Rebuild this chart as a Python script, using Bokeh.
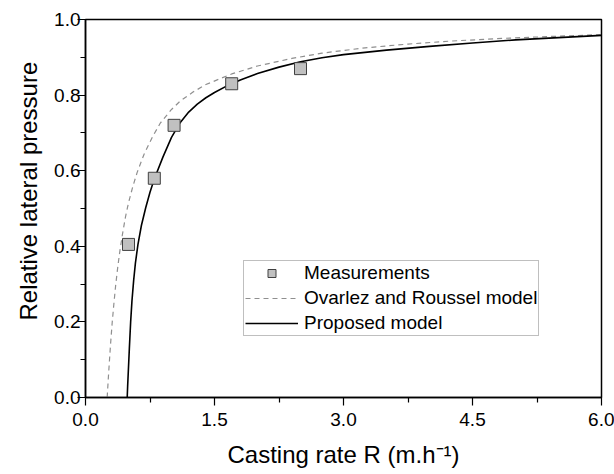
from bokeh.plotting import figure
from bokeh.models import (Range1d, FixedTicker, NumeralTickFormatter, Legend, LegendItem, Title)
from bokeh.embed import file_html
from bokeh.resources import INLINE

# ---- data ----
meas_x = [0.50, 0.80, 1.03, 1.70, 2.50]
meas_y = [0.405, 0.58, 0.72, 0.83, 0.87]

ovarlez_x = [0.252, 0.27, 0.29, 0.31, 0.33, 0.35, 0.375, 0.40, 0.43, 0.465, 0.50, 0.55, 0.60,
             0.68, 0.78, 0.87, 1.00, 1.10, 1.25, 1.40, 1.70, 2.00, 2.40, 2.75, 3.25, 3.75,
             4.25, 4.85, 5.40, 6.00]
ovarlez_y = [0.0, 0.068, 0.137, 0.197, 0.248, 0.295, 0.345, 0.388, 0.432, 0.478, 0.515, 0.558, 0.595,
             0.643, 0.690, 0.726, 0.762, 0.784, 0.808, 0.828, 0.856, 0.877, 0.897, 0.911, 0.925, 0.935,
             0.943, 0.950, 0.955, 0.960]

proposed_x = [0.485, 0.49, 0.50, 0.51, 0.525, 0.54, 0.56, 0.58, 0.61, 0.65, 0.70, 0.75, 0.80,
              0.90, 1.00, 1.10, 1.20, 1.30, 1.40, 1.50, 1.65, 1.80, 2.00, 2.25, 2.50, 2.75,
              3.00, 3.50, 4.00, 4.50, 5.00, 5.50, 6.00]
proposed_y = [0.0, 0.03, 0.08, 0.13, 0.20, 0.255, 0.31, 0.355, 0.405, 0.455, 0.502, 0.543, 0.578,
              0.636, 0.688, 0.727, 0.755, 0.776, 0.793, 0.807, 0.825, 0.840, 0.857, 0.874, 0.888,
              0.899, 0.907, 0.919, 0.929, 0.938, 0.946, 0.952, 0.958]

x_ticks = [0.0, 1.5, 3.0, 4.5, 6.0]
x_minor = [0.75, 2.25, 3.75, 5.25]
y_ticks = [0.0, 0.2, 0.4, 0.6, 0.8, 1.0]
y_minor = [0.1, 0.3, 0.5, 0.7, 0.9]

legend_labels = ["Measurements", "Ovarlez and Roussel model", "Proposed model"]
x_title = "Casting rate R (m.h\u207b\u00b9)"
y_title = "Relative lateral pressure"

FONT = "Liberation Sans"

p = figure(width=614, height=474, output_backend="svg", toolbar_location=None,
           x_range=Range1d(0, 6), y_range=Range1d(0, 1),
           min_border_left=85, min_border_right=13, min_border_top=19, min_border_bottom=77)

p.background_fill_color = "white"
p.border_fill_color = "white"
p.outline_line_color = "black"
p.outline_line_width = 1.5
p.xgrid.visible = False
p.ygrid.visible = False

r_ov = p.line(ovarlez_x, ovarlez_y, line_color="#8f8f8f", line_width=1.2, line_dash="5 4")
r_pr = p.line(proposed_x, proposed_y, line_color="black", line_width=1.6)
r_me = p.scatter(meas_x, meas_y, marker="square", size=12, fill_color="#c0c0c0",
                 line_color="#404040", line_width=1)

for ax, ticks, minor in ((p.xaxis[0], x_ticks, x_minor), (p.yaxis[0], y_ticks, y_minor)):
    ax.ticker = FixedTicker(ticks=ticks, minor_ticks=minor)
    ax.formatter = NumeralTickFormatter(format="0.0")
    ax.axis_line_color = "black"
    ax.axis_line_width = 1.5
    ax.major_tick_line_color = "black"
    ax.major_tick_line_width = 1.2
    ax.minor_tick_line_color = "black"
    ax.minor_tick_line_width = 1.2
    ax.major_tick_out = 8
    ax.major_tick_in = 0
    ax.minor_tick_out = 5
    ax.minor_tick_in = 0
    ax.major_label_text_font = FONT
    ax.major_label_text_font_size = "19px"
    ax.major_label_text_color = "black"
    ax.axis_label_text_font = FONT
    ax.axis_label_text_font_size = "24px"
    ax.axis_label_text_font_style = "normal"
    ax.axis_label_text_color = "black"

p.xaxis[0].axis_label = x_title
p.xaxis[0].major_label_standoff = 7
p.yaxis[0].major_label_standoff = -3
p.yaxis[0].axis_label_standoff = 0
p.xaxis[0].axis_label_standoff = 12

# y title as a side title so that it can sit slightly above the frame centre
p.add_layout(Title(text=y_title, align="left", offset=77, standoff=20,
                   text_font=FONT, text_font_size="24px", text_font_style="normal",
                   text_color="black"), "left")

legend = Legend(items=[
    LegendItem(label=legend_labels[0], renderers=[r_me]),
    LegendItem(label=legend_labels[1], renderers=[r_ov]),
    LegendItem(label=legend_labels[2], renderers=[r_pr]),
], location=(158, 61))
legend.border_line_color = "#7f7f7f"
legend.border_line_width = 1
legend.background_fill_color = "white"
legend.background_fill_alpha = 1
legend.label_text_font = FONT
legend.label_text_font_size = "19px"
legend.label_text_line_height = 1.0
legend.label_text_color = "black"
legend.padding = 1
legend.spacing = 3
legend.margin = 0
legend.label_height = 20
legend.glyph_height = 20
legend.glyph_width = 53
legend.label_standoff = 6
p.add_layout(legend, "center")

open("out.html", "w").write(file_html(p, INLINE))
